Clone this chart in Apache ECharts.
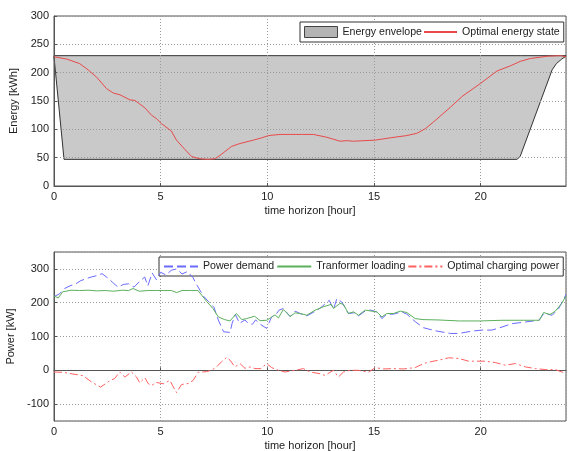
<!DOCTYPE html>
<html>
<head>
<meta charset="utf-8">
<script src="https://cdn.jsdelivr.net/npm/echarts@6/dist/echarts.min.js"></script>
<style>
  html, body { margin: 0; background: #fff; }
  #chart { width: 568px; height: 451px; }
</style>
</head>
<body>
<div id="chart"></div>
<script>
// energy envelope (upper / lower bound) [kWh]
const envHours = [0, 0.47, 21.7, 21.85, 23.35, 23.55, 23.8, 24];
const envUpper = [230, 230, 230, 230, 230, 230, 230, 230];
const envLower = [228, 47, 47, 52, 205, 216, 224, 229];

// optimal energy state [kWh]
const stateHours = [0, 0.6, 1.2, 1.6, 2.0, 2.46, 2.78, 3.09, 3.56, 3.79, 4.26, 4.57, 4.8, 5.04, 5.5,
  5.74, 6.1, 6.45, 6.84, 7.23, 7.54, 7.78, 8.33, 8.72, 9.35, 9.74, 10.05, 10.6, 11.1, 11.6, 12.16,
  12.79, 13.41, 13.7, 14.04, 15.06, 15.76, 16.54, 17.01, 17.4, 17.79, 18.58, 19.13, 19.99, 20.77,
  21.39, 21.86, 22.33, 23.12, 23.74, 24];
const stateEnergy = [228, 224, 216, 205, 192, 172, 164, 161, 152, 151, 138, 125, 119, 110, 97,
  81, 66, 52, 48, 47, 48, 54, 70, 75, 81, 85, 89, 91, 91, 91, 91,
  86, 79, 80, 79, 81, 85, 89, 93, 101, 113, 139, 158, 181, 203,
  212, 220, 225, 229, 230, 228];

// power demand [kW]
const demandHours = [0, 0.25, 0.5, 0.75, 1.0, 1.25, 1.5, 1.75, 2.0, 2.25, 2.5, 2.75, 3.0, 3.25, 3.5,
  3.75, 4.0, 4.25, 4.4, 4.6, 4.8, 5.0, 5.25, 5.5, 5.75, 6.0, 6.25, 6.5, 6.7, 7.0, 7.25, 7.5, 7.7,
  7.95, 8.25, 8.35, 8.5, 8.7, 8.95, 9.1, 9.3, 9.45, 9.7, 9.97, 10.2, 10.4, 10.55, 10.75, 11.07,
  11.3, 11.54, 11.85, 12.2, 12.5, 12.9, 13.1, 13.26, 13.49, 13.8, 14.04, 14.27, 14.6, 14.83, 15.13,
  15.37, 15.6, 15.91, 16.3, 16.54, 16.93, 17.32, 17.87, 18.58, 18.97, 19.6, 20.06, 20.53, 21.0,
  21.47, 22.1, 22.73, 22.96, 23.35, 23.66, 24];
const demandKw = [218, 226, 242, 250, 255, 265, 271, 276, 280, 286, 274, 260, 246, 254, 256,
  246, 262, 276, 250, 288, 268, 290, 282, 296, 300, 285, 292, 276, 252, 220, 203, 186, 149,
  114, 112, 139, 165, 139, 149, 139, 136, 149, 135, 124, 158, 165, 178, 183, 159,
  175, 168, 161, 173, 185, 207, 181, 212, 202, 168, 170, 161, 176, 178, 173,
  153, 166, 166, 173, 166, 144, 126, 117, 109, 109, 116, 119, 119, 128,
  138, 143, 148, 168, 163, 183, 224];

// transformer loading [kW]
const loadHours = [0, 0.2, 0.4, 0.8, 1.2, 1.6, 2.0, 2.4, 2.8, 3.2, 3.5, 3.7, 4.0, 4.4, 4.8, 5.2,
  5.5, 5.75, 6.0, 6.4, 6.75, 7.15, 7.45, 7.7, 8.0, 8.25, 8.55, 8.8, 9.03, 9.4, 9.66, 9.97, 10.15,
  10.36, 10.52, 10.75, 11.07, 11.3, 11.54, 11.85, 12.24, 12.63, 13.0, 13.1, 13.41, 13.57, 13.8,
  14.04, 14.27, 14.59, 14.9, 15.13, 15.37, 15.6, 15.91, 16.23, 16.54, 16.93, 17.3, 18, 19, 20,
  21, 22, 22.75, 22.95, 23.25, 23.5, 23.8, 24];
const loadKw = [220, 214, 232, 237, 236, 237, 235, 236, 234, 237, 236, 242, 234, 236, 236, 236,
  236, 230, 236, 236, 236, 204, 183, 158, 150, 146, 168, 150, 153, 160, 147, 148, 155,
  164, 155, 180, 159, 170, 168, 163, 178, 188, 195, 183, 198, 195, 168,
  173, 163, 178, 175, 173, 158, 168, 168, 175, 171, 153, 150, 149, 146, 146,
  148, 148, 148, 171, 165, 175, 198, 220];

// optimal charging power [kW]
const chargeHours = [0, 0.42, 0.89, 1.36, 1.75, 2.18, 2.54, 2.85, 3.08, 3.32, 3.63, 3.87, 4.02,
  4.26, 4.41, 4.57, 4.8, 5.12, 5.43, 5.74, 5.98, 6.3, 6.52, 6.76, 7.15, 7.38, 7.62, 7.85, 8.09,
  8.25, 8.48, 8.72, 8.95, 9.19, 9.42, 9.7, 9.97, 10.2, 10.52, 10.83, 11.3, 11.69, 12.0, 12.47,
  12.7, 13.1, 13.33, 13.57, 13.88, 14.27, 14.74, 15.06, 15.45, 15.91, 16.38, 16.93, 17.16, 17.48,
  18.03, 18.5, 18.97, 19.44, 20.2, 20.68, 21.16, 21.63, 22.1, 22.57, 23.04, 23.5, 23.9, 24];
const chargeKw = [-5, -6, -11, -16, -34, -50, -34, -24, -5, -20, -5, -20, -37,
  -22, -39, -45, -36, -40, -30, -66, -42, -39, -30, -6, -4, 0, 10, 25, 38,
  30, 10, 20, 6, 10, 5, 5, 20, 8, 0, -5, 0, 5, -5, -10,
  -15, 0, -20, -5, 0, 0, -6, 8, 4, 5, 4, 8, 15, 23,
  30, 37, 35, 27, 27, 23, 15, 20, 10, 5, 2, 2, -7, -8];

const pairs = (xs, ys) => xs.map((x, i) => [x, ys[i]]);

const font = 'Liberation Sans, Arial, sans-serif';
const axisText = { color: '#222', fontFamily: font, fontSize: 11 };
const legendText = { color: '#222', fontFamily: font, fontSize: 10.6 };
const gridLine = { lineStyle: { color: '#9a9a9a', type: [1, 2] } };

const xAxisFor = gridIndex => ({
  gridIndex,
  type: 'value',
  min: 0,
  max: 24,
  interval: 5,
  name: 'time horizon [hour]',
  nameLocation: 'middle',
  nameGap: 19,
  nameTextStyle: axisText,
  axisLine: { lineStyle: { color: '#555' } },
  axisTick: { inside: true, length: 3, lineStyle: { color: '#555' } },
  axisLabel: { ...axisText, margin: 5, showMaxLabel: false },
  splitLine: gridLine,
  z: 3
});

// envelope drawn as one filled polygon between the two bounds
const renderEnvelope = (params, api) => {
  if (params.dataIndex !== 0) return null;
  const top = envHours.map((h, i) => api.coord([h, envUpper[i]]));
  const bottom = envHours.map((h, i) => api.coord([h, envLower[i]])).reverse();
  return {
    type: 'polygon',
    shape: { points: top.concat(bottom) },
    style: { fill: '#c9c9c9', stroke: '#333', lineWidth: 1 }
  };
};

const chart = echarts.init(document.getElementById('chart'));

chart.setOption({
  backgroundColor: '#fff',
  animation: false,
  grid: [
    { left: 54, right: 2, top: 16, height: 170, show: true, borderColor: '#555', borderWidth: 1, outerBoundsMode: 'none' },
    { left: 54, right: 2, top: 252, height: 169, show: true, borderColor: '#555', borderWidth: 1, outerBoundsMode: 'none' }
  ],
  legend: [
    {
      left: 300,
      top: 22,
      width: 300,
      backgroundColor: '#fff',
      borderColor: '#333',
      borderWidth: 1,
      padding: [4, 4],
      itemGap: 1,
      itemWidth: 33,
      itemHeight: 11,
      textStyle: legendText,
      data: [
        { name: 'Energy envelope', icon: 'rect', itemStyle: { color: '#b4b4b4', borderColor: '#444', borderWidth: 1, opacity: 1 } },
        { name: 'Optimal energy state', itemStyle: { opacity: 0 } }
      ]
    },
    {
      left: 159,
      top: 257,
      width: 440,
      backgroundColor: '#fff',
      borderColor: '#333',
      borderWidth: 1,
      padding: [4, 4],
      itemGap: 2,
      itemWidth: 34,
      itemHeight: 11,
      textStyle: legendText,
      itemStyle: { opacity: 0 },
      data: ['Power demand', 'Tranformer loading', 'Optimal charging power']
    }
  ],
  xAxis: [xAxisFor(0), xAxisFor(1)],
  yAxis: [
    {
      gridIndex: 0,
      type: 'value',
      min: 0,
      max: 300,
      interval: 50,
      name: 'Energy [kWh]',
      nameLocation: 'middle',
      nameGap: 27,
      nameTextStyle: axisText,
      axisLine: { show: true, lineStyle: { color: '#555' } },
      axisTick: { show: true, inside: true, length: 3, lineStyle: { color: '#555' } },
      axisLabel: { ...axisText, margin: 5 },
      splitLine: gridLine,
      z: 3
    },
    {
      gridIndex: 1,
      type: 'value',
      min: -150,
      max: 350,
      splitNumber: 5,
      name: 'Power [kW]',
      nameLocation: 'middle',
      nameGap: 31,
      nameTextStyle: axisText,
      axisLine: { show: true, lineStyle: { color: '#555' } },
      axisTick: { show: true, inside: true, length: 3, lineStyle: { color: '#555' } },
      axisLabel: { ...axisText, margin: 5, showMinLabel: false, showMaxLabel: false },
      splitLine: gridLine,
      z: 3
    }
  ],
  series: [
    {
      name: 'Energy envelope',
      type: 'custom',
      xAxisIndex: 0,
      yAxisIndex: 0,
      renderItem: renderEnvelope,
      data: pairs(envHours, envUpper),
      itemStyle: { color: '#b4b4b4' },
      z: 1
    },
    {
      name: 'Optimal energy state',
      type: 'line',
      xAxisIndex: 0,
      yAxisIndex: 0,
      symbol: 'none',
      data: pairs(stateHours, stateEnergy),
      lineStyle: { color: '#e84a4a', width: 1 },
      itemStyle: { color: '#e84a4a' },
      z: 5
    },
    {
      name: 'Power demand',
      type: 'line',
      xAxisIndex: 1,
      yAxisIndex: 1,
      symbol: 'none',
      data: pairs(demandHours, demandKw),
      lineStyle: { color: '#6a6aff', width: 1, type: [9, 4] },
      itemStyle: { color: '#6a6aff' },
      z: 5
    },
    {
      name: 'Tranformer loading',
      type: 'line',
      xAxisIndex: 1,
      yAxisIndex: 1,
      symbol: 'none',
      data: pairs(loadHours, loadKw),
      lineStyle: { color: '#5cb05c', width: 1 },
      itemStyle: { color: '#5cb05c' },
      z: 5
    },
    {
      name: 'Optimal charging power',
      type: 'line',
      xAxisIndex: 1,
      yAxisIndex: 1,
      symbol: 'none',
      data: pairs(chargeHours, chargeKw),
      lineStyle: { color: '#ff6060', width: 1, type: [8, 3, 2, 3] },
      itemStyle: { color: '#ff6060' },
      z: 5
    }
  ]
});
</script>
</body>
</html>
